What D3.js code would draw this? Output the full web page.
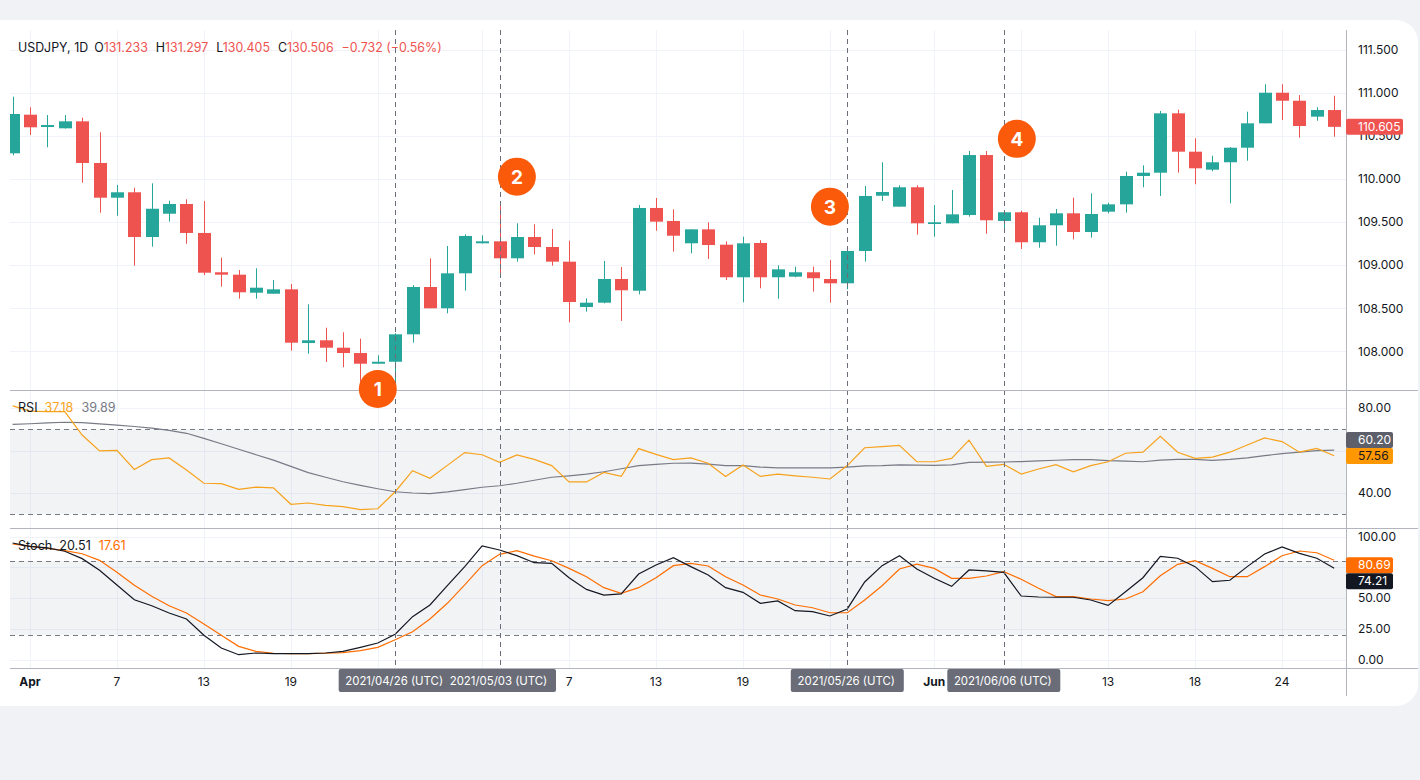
<!DOCTYPE html>
<html>
<head>
<meta charset="UTF-8">
<title>USDJPY 1D with RSI and Stochastic</title>
<style>
  body { margin: 0; background: #f1f2f6; }
  svg { display: block; font-family: Inter, "Noto Sans", sans-serif; }
</style>
</head>
<body>
<svg></svg>
<script src="https://d3js.org/d3.v7.min.js"></script>
<script>

// daily bars (FX feed, Sunday bars included)
const dates = ["2021-03-31","2021-04-01","2021-04-02","2021-04-04","2021-04-05","2021-04-06","2021-04-07","2021-04-08","2021-04-09",
  "2021-04-11","2021-04-12","2021-04-13","2021-04-14","2021-04-15","2021-04-16","2021-04-18","2021-04-19","2021-04-20","2021-04-21",
  "2021-04-22","2021-04-23","2021-04-25","2021-04-26","2021-04-27","2021-04-28","2021-04-29","2021-04-30","2021-05-02","2021-05-03",
  "2021-05-04","2021-05-05","2021-05-06","2021-05-07","2021-05-09","2021-05-10","2021-05-11","2021-05-12","2021-05-13","2021-05-14",
  "2021-05-16","2021-05-17","2021-05-18","2021-05-19","2021-05-20","2021-05-21","2021-05-23","2021-05-24","2021-05-25","2021-05-26",
  "2021-05-27","2021-05-28","2021-05-30","2021-05-31","2021-06-01","2021-06-02","2021-06-03","2021-06-04","2021-06-06","2021-06-07",
  "2021-06-08","2021-06-09","2021-06-10","2021-06-11","2021-06-13","2021-06-14","2021-06-15","2021-06-16","2021-06-17","2021-06-18",
  "2021-06-20","2021-06-21","2021-06-22","2021-06-23","2021-06-24","2021-06-25","2021-06-27","2021-06-28"];

const open = [110.298,110.746,110.603,110.588,110.669,110.186,109.783,109.846,109.327,109.597,109.710,109.374,108.918,108.890,108.681,108.669,
  108.720,108.097,108.129,108.043,107.981,107.857,107.880,108.198,108.747,108.500,108.906,109.254,109.277,109.080,109.327,109.211,109.041,
  108.515,108.565,108.840,108.704,109.664,109.513,109.254,109.416,109.238,108.860,109.258,108.860,108.867,108.918,108.840,108.790,109.165,
  109.806,109.679,109.904,109.478,109.486,109.582,110.278,109.513,109.614,109.266,109.463,109.602,109.385,109.621,109.706,110.035,110.073,
  110.762,110.317,110.108,110.194,110.363,110.646,111.001,110.908,110.723,110.800];
const high = [110.955,110.832,110.742,110.742,110.711,110.542,109.930,109.899,109.950,109.748,109.764,109.745,109.087,108.944,108.964,108.828,
  108.782,108.546,108.275,108.222,108.147,107.955,108.210,108.770,109.080,109.223,109.358,109.347,109.710,109.486,109.474,109.420,109.284,
  108.616,109.049,108.979,109.698,109.780,109.648,109.416,109.498,109.277,109.331,109.289,108.999,108.983,108.983,109.060,109.170,109.919,
  110.194,109.927,109.927,109.698,109.872,110.325,110.325,109.614,109.632,109.551,109.652,109.783,109.834,109.725,110.085,110.159,110.789,
  110.804,110.472,110.270,110.371,110.781,111.099,111.099,110.974,110.832,110.966];
const low = [110.275,110.510,110.368,110.585,109.957,109.609,109.574,108.994,109.215,109.505,109.249,108.886,108.751,108.611,108.611,108.669,
  108.008,107.973,107.877,107.816,107.648,107.857,107.645,108.101,108.500,108.442,108.704,109.254,108.886,109.041,109.126,108.994,108.338,
  108.461,108.558,108.353,108.662,109.400,109.157,109.138,109.072,108.828,108.570,108.732,108.611,108.860,108.693,108.565,108.720,109.041,
  109.745,109.679,109.354,109.331,109.486,109.563,109.365,109.397,109.188,109.203,109.226,109.300,109.319,109.602,109.609,109.904,109.803,
  110.073,109.939,110.089,109.718,110.212,110.646,110.684,110.479,110.676,110.491];
const close = [110.754,110.600,110.626,110.669,110.186,109.783,109.846,109.327,109.655,109.710,109.374,108.913,108.890,108.686,108.739,108.720,
  108.101,108.129,108.043,107.981,107.857,107.880,108.198,108.747,108.500,108.906,109.339,109.277,109.080,109.327,109.211,109.041,108.573,
  108.565,108.840,108.709,109.664,109.505,109.342,109.416,109.234,108.860,109.254,108.860,108.952,108.918,108.849,108.790,109.165,109.803,
  109.849,109.904,109.486,109.498,109.590,110.278,109.521,109.614,109.266,109.463,109.602,109.385,109.594,109.706,110.035,110.073,110.762,
  110.317,110.124,110.194,110.363,110.646,111.001,110.908,110.615,110.800,110.605];

const rsi = [81.0,78.5,78.3,78.3,67.3,59.8,60.1,51.1,55.7,56.5,50.8,44.6,44.4,41.7,42.8,42.4,34.7,35.3,34.2,33.6,32.2,32.6,40.6,50.5,46.9,
  53.0,59.0,58.0,54.4,57.9,55.8,52.9,45.2,45.2,49.7,47.8,60.9,58.2,55.7,56.5,54.0,47.8,53.2,47.8,48.9,48.1,47.4,46.6,52.9,61.3,61.8,62.4,
  54.7,54.7,56.3,64.9,52.5,53.5,48.9,51.3,53.3,50.0,52.9,54.7,58.7,59.2,66.7,59.2,56.3,56.9,59.2,62.6,65.9,64.2,59.2,61.0,57.56];
const rsiMa = [72.3,72.6,73.0,73.3,73.1,72.5,71.9,71.3,70.5,69.5,68.1,65.7,63.2,60.6,58.0,55.5,52.5,49.6,47.4,45.3,43.6,42.0,40.6,40.0,39.7,
  40.5,41.6,42.7,43.4,44.6,46.0,47.4,48.1,48.9,50.0,51.4,52.9,53.5,54.0,54.1,53.6,52.9,52.9,52.2,51.8,51.8,51.8,51.8,52.2,52.8,52.9,53.2,
  53.1,53.0,53.2,54.4,54.5,54.6,54.8,55.1,55.4,55.7,55.7,55.2,55.0,54.7,55.5,55.8,55.8,55.4,55.8,56.5,57.6,58.5,59.2,59.9,60.2];

const stochK = [94.7,92.0,90.7,88.0,82.0,72.5,60.6,48.6,43.7,37.8,32.9,19.7,9.3,3.9,5.3,4.7,4.7,4.7,5.3,6.6,9.9,13.4,20.5,34.8,44.3,60.0,
  75.5,92.3,89.0,84.4,78.7,78.2,66.5,57.0,52.4,53.3,69.5,76.8,82.8,75.5,68.7,58.4,54.6,45.7,47.6,39.7,38.9,35.4,41.1,63.0,76.3,84.4,73.6,
  66.0,59.5,72.8,72.0,70.9,51.6,50.8,50.6,50.6,48.4,44.0,55.1,66.5,83.9,82.3,75.5,63.3,64.4,75.5,85.8,91.5,86.3,82.3,74.21];
const stochD = [93.9,92.0,90.3,88.5,86.0,80.6,70.9,60.3,51.4,43.7,37.8,28.9,19.7,10.7,6.6,5.1,4.7,4.7,5.1,5.6,7.2,9.9,16.0,22.6,32.9,45.7,
  60.6,76.3,85.5,88.5,84.1,80.3,74.1,67.3,58.4,53.8,58.4,66.5,76.3,78.2,76.0,67.3,60.6,52.4,49.2,44.3,42.1,38.0,38.0,48.4,60.0,73.6,77.6,
  74.1,66.0,66.0,67.9,71.4,65.2,57.9,51.1,51.1,49.2,47.8,49.2,55.1,68.1,77.4,80.3,74.1,67.3,67.3,75.5,84.4,88.2,86.8,80.69];

const priceTicks = [108, 108.5, 109, 109.5, 110, 110.5, 111, 111.5];
const rsiTicks = [40, 60, 80];
const stochTicks = [0, 25, 50, 75, 100];

const gridDates = ["2021-04-01","2021-04-07","2021-04-13","2021-04-19","2021-04-25","2021-05-02","2021-05-07","2021-05-13",
  "2021-05-19","2021-05-25","2021-06-01","2021-06-07","2021-06-13","2021-06-18","2021-06-24"];
const gridLabels = ["Apr","7","13","19","25","May","7","13","19","25","Jun","7","13","18","24"];

const crossDates = ["2021-04-26","2021-05-03","2021-05-26","2021-06-06"];
const crossLabels = ["2021/04/26 (UTC)","2021/05/03 (UTC)","2021/05/26 (UTC)","2021/06/06 (UTC)"];

const markerText = ["1","2","3","4"];
const markerBar = [21, 29, 47, 57.75];
const markerPrice = [107.564, 110.027, 109.679, 110.466];

const up = "#26a69a", down = "#ef5350", ink = "#131722";

let width = 1420, height = 780;
let svg = d3.select("svg").attr("width", width).attr("height", height);

let left = 10, right = 1346, cardRight = 1418;
let paneTop = 30, rsiTop = 390, stochTop = 528, axisTop = 668, axisBottom = 696;

let x = d3.scaleLinear().domain([0, dates.length - 1]).range([12.6, 1334.2]);
let y = d3.scaleLinear().domain([108, 111.5]).range([351.4, 49.7]);
let yRsi = d3.scaleLinear().domain([40, 80]).range([493, 408]);
let yStoch = d3.scaleLinear().domain([0, 100]).range([659.5, 536.5]);
let bar = d => dates.indexOf(d);
let last = dates.length - 1;

// card
svg.append("rect").attr("x", -30).attr("y", 20).attr("width", cardRight + 30).attr("height", 686)
  .attr("rx", 22).attr("fill", "#ffffff");

let defs = svg.append("defs");
function clip(id, top, bottom) {
  defs.append("clipPath").attr("id", id).append("rect")
    .attr("x", left).attr("y", top).attr("width", right - left).attr("height", bottom - top);
  return "url(#" + id + ")";
}
let clipPrice = clip("cp", paneTop, rsiTop), clipRsi = clip("cr", rsiTop, stochTop), clipStoch = clip("cs", stochTop, axisTop);

// grid
let grid = svg.append("g").attr("stroke", "#f0f3fa").attr("stroke-width", 1);
grid.selectAll(".v").data(gridDates).enter().append("line")
  .attr("x1", d => Math.round(x(bar(d))) + 0.5).attr("x2", d => Math.round(x(bar(d))) + 0.5)
  .attr("y1", paneTop).attr("y2", axisTop);
[[priceTicks, y], [rsiTicks, yRsi], [stochTicks, yStoch]].forEach(([ticks, sc]) => {
  grid.selectAll(null).data(ticks).enter().append("line")
    .attr("x1", left).attr("x2", right)
    .attr("y1", d => Math.round(sc(d)) + 0.5).attr("y2", d => Math.round(sc(d)) + 0.5);
});

// indicator bands
function band(sc, lo, hi, cp) {
  let g = svg.append("g").attr("clip-path", cp);
  g.append("rect").attr("x", left).attr("width", right - left)
    .attr("y", sc(hi)).attr("height", sc(lo) - sc(hi)).attr("fill", "#7e8599").attr("opacity", 0.1);
  g.selectAll("line").data([lo, hi]).enter().append("line")
    .attr("x1", left).attr("x2", right)
    .attr("y1", d => Math.round(sc(d)) + 0.5).attr("y2", d => Math.round(sc(d)) + 0.5)
    .attr("stroke", "#787b86").attr("stroke-dasharray", "5,4");
}
band(yRsi, 30, 70, clipRsi);
band(yStoch, 20, 80, clipStoch);

// candles
let candles = svg.append("g").attr("clip-path", clipPrice)
  .selectAll("g").data(dates).enter().append("g")
  .attr("fill", (d, i) => close[i] >= open[i] ? up : down)
  .attr("stroke", (d, i) => close[i] >= open[i] ? up : down);
candles.append("line")
  .attr("x1", (d, i) => Math.round(x(i)) + 0.5).attr("x2", (d, i) => Math.round(x(i)) + 0.5)
  .attr("y1", (d, i) => y(high[i])).attr("y2", (d, i) => y(low[i]));
candles.append("rect")
  .attr("stroke", "none")
  .attr("x", (d, i) => Math.round(x(i)) - 6).attr("width", 13)
  .attr("y", (d, i) => y(Math.max(open[i], close[i])))
  .attr("height", (d, i) => Math.max(1.5, Math.abs(y(open[i]) - y(close[i]))));

// indicator lines
function series(values, sc, color, cp) {
  svg.append("path").attr("clip-path", cp)
    .attr("d", d3.line().x((d, i) => x(i)).y(d => sc(d))(values))
    .attr("fill", "none").attr("stroke", color).attr("stroke-width", 1.2);
}
series(rsiMa, yRsi, "#787b86", clipRsi);
series(rsi, yRsi, "#f7a21b", clipRsi);
series(stochD, yStoch, "#ff6d00", clipStoch);
series(stochK, yStoch, ink, clipStoch);

// crosshair lines
svg.append("g").selectAll("line").data(crossDates).enter().append("line")
  .attr("x1", d => Math.round(x(bar(d))) + 0.5).attr("x2", d => Math.round(x(bar(d))) + 0.5)
  .attr("y1", paneTop).attr("y2", axisTop)
  .attr("stroke", "#6a6d78").attr("stroke-dasharray", "5,4");

// pane separators and scale border
let frame = svg.append("g").attr("stroke", "#b2b5be").attr("stroke-width", 1);
[rsiTop, stochTop, axisTop].forEach(v => {
  frame.append("line").attr("x1", left).attr("x2", cardRight).attr("y1", v + 0.5).attr("y2", v + 0.5);
});
frame.append("line").attr("x1", right + 0.5).attr("x2", right + 0.5).attr("y1", paneTop).attr("y2", axisBottom);

// last value tags (centre y), the scale labels they cover are left out
let tags = [
  {cy: y(close[last]), label: d3.format(".3f")(close[last]), bg: down, fg: "#ffffff", w: 57, keep: true},
  {cy: yRsi(rsiMa[last]) - 10, label: d3.format(".2f")(rsiMa[last]), bg: "#5d606b", fg: "#ffffff", w: 47},
  {cy: yRsi(rsiMa[last]) + 6, label: d3.format(".2f")(rsi[last]), bg: "#ff9800", fg: ink, w: 47},
  {cy: yStoch(stochD[last]) + 5, label: d3.format(".2f")(stochD[last]), bg: "#ff6d00", fg: "#ffffff", w: 47},
  {cy: yStoch(stochD[last]) + 21, label: d3.format(".2f")(stochK[last]), bg: ink, fg: "#ffffff", w: 47}
];
let covered = v => tags.some(t => !t.keep && Math.abs(t.cy - v) < 9);

// right scales
function scaleLabels(ticks, sc, fmt) {
  svg.append("g").selectAll("text").data(ticks.filter(d => !covered(sc(d)))).enter().append("text")
    .attr("x", 1358).attr("y", d => sc(d)).attr("dy", "0.35em")
    .attr("font-size", 12).attr("fill", ink).text(fmt);
}
scaleLabels(priceTicks, y, d3.format(".3f"));
scaleLabels(rsiTicks, yRsi, d3.format(".2f"));
scaleLabels(stochTicks, yStoch, d3.format(".2f"));

tags.forEach(t => {
  let g = svg.append("g");
  g.append("rect").attr("x", right).attr("y", t.cy - 8).attr("width", t.w).attr("height", 16).attr("rx", 2).attr("fill", t.bg);
  g.append("text").attr("x", 1358).attr("y", t.cy).attr("dy", "0.35em").attr("font-size", 12).attr("fill", t.fg).text(t.label);
});

// time axis
let hidden = ["2021-04-25", "2021-05-02", "2021-05-25", "2021-06-07"];
svg.append("g").selectAll("text").data(gridDates.filter(d => hidden.indexOf(d) < 0)).enter().append("text")
  .attr("x", d => x(bar(d))).attr("y", 682).attr("dy", "0.35em").attr("text-anchor", "middle")
  .attr("font-size", 12).attr("fill", ink)
  .attr("font-weight", d => isNaN(+gridLabels[gridDates.indexOf(d)]) ? 700 : 400)
  .text(d => gridLabels[gridDates.indexOf(d)]);
let crossTags = svg.append("g").selectAll("g").data(crossDates).enter().append("g");
crossTags.append("rect").attr("x", d => x(bar(d)) - 56.5).attr("y", 669).attr("width", 113).attr("height", 23)
  .attr("rx", 2).attr("fill", "#6a6d78");
crossTags.append("text").attr("x", d => x(bar(d)) - 1).attr("y", 681).attr("dy", "0.35em").attr("text-anchor", "middle")
  .attr("font-size", 11.4).attr("fill", "#ffffff").text((d, i) => crossLabels[i]);

// legends
let head = svg.append("text").attr("x", 18).attr("y", 48).attr("dy", "0.35em").attr("font-size", 12.4).attr("fill", ink);
[["USDJPY, 1D", ink, 0], ["O", ink, 6], ["131.233", down, 0], ["H", ink, 8], ["131.297", down, 0],
 ["L", ink, 8], ["130.405", down, 0], ["C", ink, 8], ["130.506", down, 0], ["\u22120.732 (\u22120.56%)", down, 8]]
  .forEach(([t, c, dx]) => head.append("tspan").attr("dx", dx).attr("fill", c).text(t));

let rsiHead = svg.append("text").attr("x", 18).attr("y", 408).attr("dy", "0.35em").attr("font-size", 12.6);
[["RSI", ink, 0], ["37.18", "#f7a21b", 7], ["39.89", "#787b86", 8]]
  .forEach(([t, c, dx]) => rsiHead.append("tspan").attr("dx", dx).attr("fill", c).text(t));
let stHead = svg.append("text").attr("x", 18).attr("y", 546).attr("dy", "0.35em").attr("font-size", 12.6);
[["Stoch", ink, 0], ["20.51", ink, 7], ["17.61", "#ff6d00", 8]]
  .forEach(([t, c, dx]) => stHead.append("tspan").attr("dx", dx).attr("fill", c).text(t));

// numbered markers
let marks = svg.append("g").selectAll("g").data(markerText).enter().append("g")
  .attr("transform", (d, i) => "translate(" + x(markerBar[i]) + "," + y(markerPrice[i]) + ")");
marks.append("circle").attr("r", 19).attr("fill", "#fa5a0a");
marks.append("text").attr("text-anchor", "middle").attr("dy", "0.36em").attr("font-size", 19)
  .attr("font-weight", 700).attr("fill", "#ffffff").text(d => d);

</script>
</body>
</html>
